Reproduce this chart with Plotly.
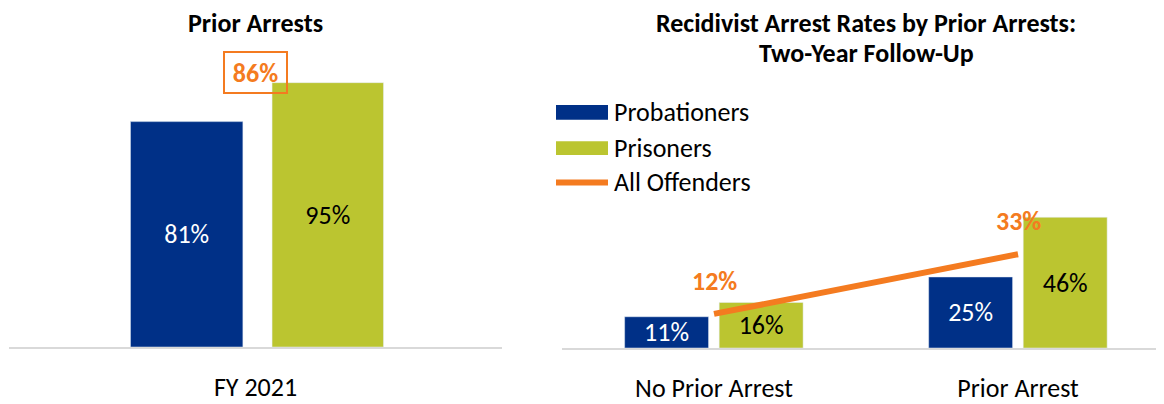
import plotly.graph_objects as go

# ---- data ----
left_categories = ["FY 2021"]
left_probationers = [81]
left_prisoners = [95]
left_all_offenders = [86]

right_categories = ["No Prior Arrest", "Prior Arrest"]
right_probationers = [11, 25]
right_prisoners = [16, 46]
right_all_offenders = [12, 33]

series_names = ["Probationers", "Prisoners", "All Offenders"]
left_title = "Prior Arrests"
right_title_lines = ["Recidivist Arrest Rates by Prior Arrests:", "Two-Year Follow-Up"]

# ---- style ----
BLUE = "#003087"
GREEN = "#BBC530"
ORANGE = "#F47B20"
FONT = "Calibri, Carlito, Lato, sans-serif"
FS = 26
PAGE_MARGIN = 8  # default body margin of the html page
W, H = 1164 - PAGE_MARGIN, 404 - PAGE_MARGIN


def px_x(p):
    return (p - PAGE_MARGIN) / W


def px_y(p):
    return (H - (p - PAGE_MARGIN)) / H


fig = go.Figure()

# left panel bars
fig.add_trace(go.Bar(
    x=left_categories, y=left_probationers, name=series_names[0],
    marker_color=BLUE, width=0.228, offset=-0.2536,
    text=[f"{v}%" for v in left_probationers], textposition="inside",
    insidetextanchor="middle", textfont=dict(color="white", size=FS, family=FONT),
    xaxis="x", yaxis="y", showlegend=False, constraintext="none"))
fig.add_trace(go.Bar(
    x=left_categories, y=left_prisoners, name=series_names[1],
    marker_color=GREEN, width=0.226, offset=0.0336,
    text=[f"{v}%" for v in left_prisoners], textposition="inside",
    insidetextanchor="middle", textfont=dict(color="black", size=FS, family=FONT),
    xaxis="x", yaxis="y", showlegend=False, constraintext="none"))

# right panel bars
fig.add_trace(go.Bar(
    x=right_categories, y=right_probationers, name=series_names[0],
    marker_color=BLUE, width=0.276, offset=-0.294,
    text=[f"{v}%" for v in right_probationers], textposition="inside",
    insidetextanchor="middle", textfont=dict(color="white", size=FS, family=FONT),
    xaxis="x2", yaxis="y2", showlegend=False, constraintext="none"))
fig.add_trace(go.Bar(
    x=right_categories, y=right_prisoners, name=series_names[1],
    marker_color=GREEN, width=0.276, offset=0.017,
    text=[f"{v}%" for v in right_prisoners], textposition="inside",
    insidetextanchor="middle", textfont=dict(color="black", size=FS, family=FONT),
    xaxis="x2", yaxis="y2", showlegend=False, constraintext="none"))
fig.add_trace(go.Scatter(
    x=right_categories, y=right_all_offenders, name=series_names[2],
    mode="lines", line=dict(color=ORANGE, width=6),
    xaxis="x2", yaxis="y2", showlegend=False))

annotations = []
# All offenders labels
for c, v in zip(right_categories, right_all_offenders):
    annotations.append(dict(x=c, y=v, xref="x2", yref="y2", text=f"<b>{v}%</b>",
                            showarrow=False, yshift=33, xanchor="center", yanchor="middle",
                            font=dict(color=ORANGE, size=FS, family=FONT)))
for c, v in zip(left_categories, left_all_offenders):
    annotations.append(dict(x=c, y=v, xref="x", yref="y", text=f"<b>{v}%</b>",
                            showarrow=False, yshift=35, width=57, height=35,
                            xanchor="center", yanchor="middle",
                            bordercolor=ORANGE, borderwidth=2, borderpad=2,
                            font=dict(color=ORANGE, size=FS, family=FONT)))

# titles
annotations.append(dict(x=px_x(255), y=px_y(23), xref="paper", yref="paper",
                        text=f"<b>{left_title}</b>", showarrow=False,
                        xanchor="center", yanchor="middle",
                        font=dict(size=FS, color="black", family=FONT)))
for i, t in enumerate(right_title_lines):
    annotations.append(dict(x=px_x(866), y=px_y(23 + 31 * i), xref="paper", yref="paper",
                            text=f"<b>{t}</b>", showarrow=False,
                            xanchor="center", yanchor="middle",
                            font=dict(size=FS, color="black", family=FONT)))

# manual legend
shapes = []
leg_rows = [114.5, 151, 186]
shapes.append(dict(type="rect", xref="paper", yref="paper",
                   x0=px_x(556), x1=px_x(608), y0=px_y(leg_rows[0] - 7.5), y1=px_y(leg_rows[0] + 7.5),
                   fillcolor=BLUE, line=dict(width=0)))
shapes.append(dict(type="rect", xref="paper", yref="paper",
                   x0=px_x(556), x1=px_x(608), y0=px_y(leg_rows[1] - 7), y1=px_y(leg_rows[1] + 7),
                   fillcolor=GREEN, line=dict(width=0)))
shapes.append(dict(type="line", xref="paper", yref="paper",
                   x0=px_x(556), x1=px_x(608), y0=px_y(leg_rows[2]), y1=px_y(leg_rows[2]),
                   line=dict(color=ORANGE, width=6)))
for name, row in zip(series_names, leg_rows):
    annotations.append(dict(x=px_x(612), y=px_y(row), xref="paper", yref="paper",
                            text=name, showarrow=False, xanchor="left", yanchor="middle",
                            font=dict(size=FS, color="black", family=FONT)))

axis_common = dict(showgrid=False, zeroline=False, showline=True, linecolor="#D9D9D9",
                   linewidth=2, ticks="outside", ticklen=16, tickcolor="rgba(0,0,0,0)",
                   tickfont=dict(size=FS, color="black", family=FONT), fixedrange=True)
yaxis_common = dict(visible=False, showgrid=False, zeroline=False, fixedrange=True)

fig.update_layout(
    width=W, height=H, margin=dict(l=0, r=0, t=0, b=0),
    paper_bgcolor="white", plot_bgcolor="white",
    barmode="overlay", showlegend=False,
    font=dict(family=FONT),
    xaxis=dict(domain=[px_x(9), px_x(502)], range=[-0.5, 0.5], type="category",
               anchor="y", **axis_common),
    yaxis=dict(domain=[px_y(354), px_y(70)], range=[0, 100], anchor="x", **yaxis_common),
    xaxis2=dict(domain=[px_x(562), px_x(1164)], range=[-0.5, 1.48], type="category",
                anchor="y2", **axis_common),
    yaxis2=dict(domain=[px_y(355), px_y(210)], range=[0, 50], anchor="x2", **yaxis_common),
    annotations=annotations, shapes=shapes,
)

fig.write_html("out.html")
